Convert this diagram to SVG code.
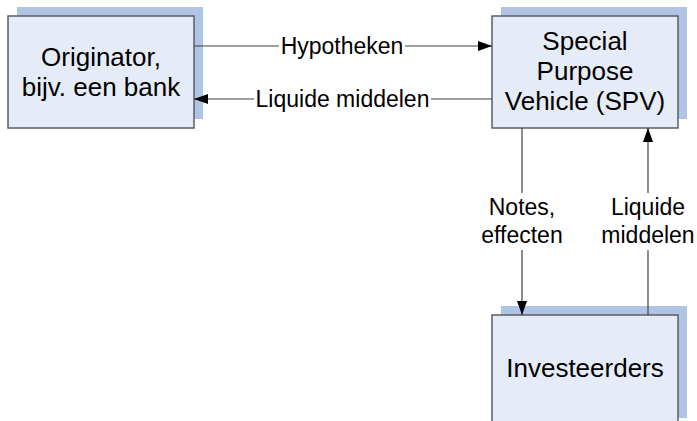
<svg xmlns="http://www.w3.org/2000/svg" width="697" height="421" viewBox="0 0 697 421">
<defs>
<style>
.shadow{fill:#B0C5E4;stroke:none}
.box{fill:#E6ECF7;stroke:#5A5E66;stroke-width:1.5}
.node{font-family:"Liberation Sans",Arial,sans-serif;font-size:26px;fill:#000;text-anchor:middle}
.lbl{font-family:"Liberation Sans",Arial,sans-serif;font-size:23px;fill:#000;text-anchor:middle}
.conn{stroke:#404040;stroke-width:1.2;fill:none}
</style>
<marker id="ah" viewBox="0 0 14 10" refX="14" refY="5" markerWidth="14" markerHeight="10" markerUnits="userSpaceOnUse" orient="auto">
<path d="M0,0 L14,5 L0,10 Z" fill="#000"/>
</marker>
</defs>
<rect width="697" height="421" fill="#fff"/>
<g id="originator">
<rect class="shadow" x="17" y="7" width="186" height="112"/>
<rect class="box" x="8" y="16" width="186" height="112"/>
<text class="node" x="101" y="66">Originator,</text>
<text class="node" x="101" y="96">bijv. een bank</text>
</g>
<g id="spv">
<rect class="shadow" x="501" y="7" width="186" height="112"/>
<rect class="box" x="492" y="16" width="186" height="112"/>
<text class="node" x="585" y="50">Special</text>
<text class="node" x="585" y="80">Purpose</text>
<text class="node" x="585" y="110">Vehicle (SPV)</text>
</g>
<g id="investeerders">
<rect class="shadow" x="501" y="306" width="186" height="112"/>
<rect class="box" x="492" y="315" width="186" height="112"/>
<text class="node" x="585" y="377">Investeerders</text>
</g>
<g id="connectors">
<line class="conn" x1="194" y1="46" x2="279" y2="46"/>
<line class="conn" x1="405" y1="46" x2="492" y2="46" marker-end="url(#ah)"/>
<text class="lbl" x="342" y="54">Hypotheken</text>
<line class="conn" x1="492" y1="99" x2="431" y2="99"/>
<line class="conn" x1="254" y1="99" x2="194" y2="99" marker-end="url(#ah)"/>
<text class="lbl" x="342.5" y="107">Liquide middelen</text>
<line class="conn" x1="522" y1="128" x2="522" y2="193"/>
<line class="conn" x1="522" y1="250" x2="522" y2="315" marker-end="url(#ah)"/>
<text class="lbl" x="522" y="215">Notes,</text>
<text class="lbl" x="522" y="243">effecten</text>
<line class="conn" x1="648" y1="315" x2="648" y2="250"/>
<line class="conn" x1="648" y1="193" x2="648" y2="128" marker-end="url(#ah)"/>
<text class="lbl" x="648" y="215">Liquide</text>
<text class="lbl" x="648" y="243">middelen</text>
</g>
</svg>
